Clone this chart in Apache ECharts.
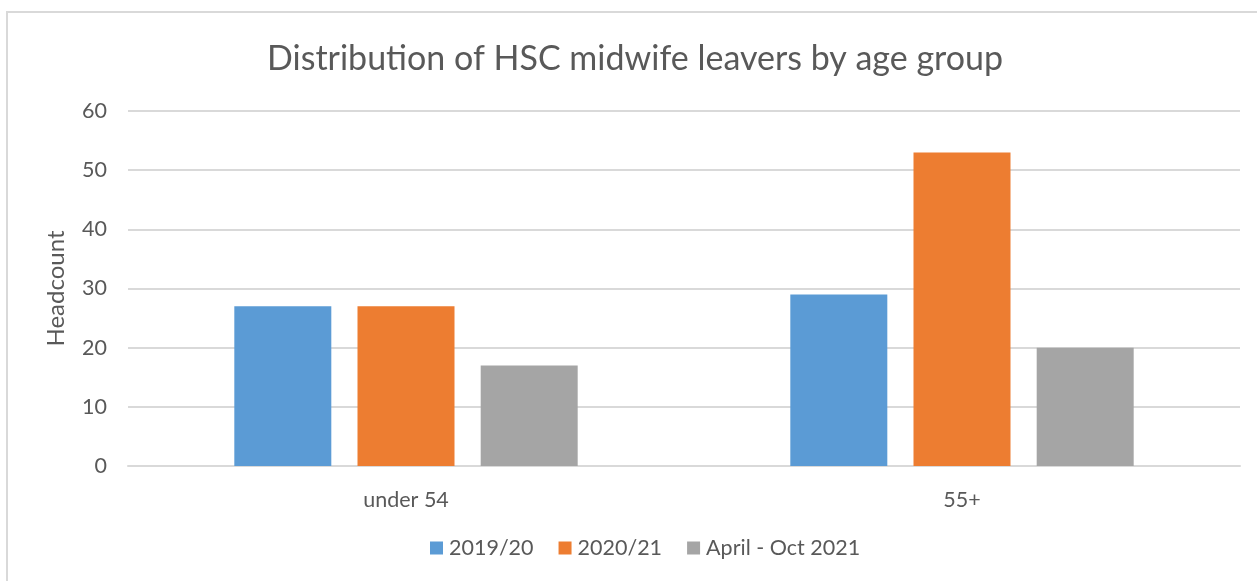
<!DOCTYPE html>
<html>
<head>
<meta charset="utf-8">
<title>Distribution of HSC midwife leavers by age group</title>
<script src="https://cdn.jsdelivr.net/npm/echarts@6/dist/echarts.min.js"></script>
<style>
  html, body { margin: 0; padding: 0; background: #ffffff; }
  #chart { width: 1257px; height: 581px; }
</style>
</head>
<body>
<div id="chart"></div>
<script>
// Age groups on the x axis
const categories = ['under 54', '55+'];

// Leaver headcounts per reporting period
const seriesNames = ['2019/20', '2020/21', 'April - Oct 2021'];
const values2019 = [27, 29];
const values2020 = [27, 53];
const valuesAprOct2021 = [17, 20];

// Value axis
const yTicks = [0, 10, 20, 30, 40, 50, 60];

const colors = ['#5b9bd5', '#ed7d31', '#a5a5a5'];
const textColor = '#595959';
const gridColor = '#d9d9d9';
const fontFamily = 'Lato, "Open Sans", sans-serif';

const chart = echarts.init(document.getElementById('chart'), null, { renderer: 'canvas' });

const seriesData = [values2019, values2020, valuesAprOct2021];

chart.setOption({
  animation: false,
  backgroundColor: '#ffffff',
  color: colors,
  textStyle: { fontFamily: fontFamily },
  graphic: [{
    type: 'rect',
    shape: { x: 7, y: 12, width: 1280, height: 600 },
    style: { fill: 'none', stroke: gridColor, lineWidth: 2 },
    silent: true,
    z: -1
  }],
  title: {
    text: 'Distribution of HSC midwife leavers by age group',
    left: 267,
    top: 42,
    padding: 0,
    textStyle: { color: textColor, fontSize: 34, fontWeight: 'normal', fontFamily: fontFamily }
  },
  legend: {
    data: seriesNames,
    bottom: 17,
    left: 425,
    itemWidth: 13,
    itemHeight: 13,
    itemGap: 25,
    icon: 'rect',
    textStyle: { color: textColor, fontSize: 21.5, fontFamily: fontFamily, padding: [0, 0, 0, 1] }
  },
  grid: { left: 128, right: 17, top: 111, bottom: 115, containLabel: false },
  xAxis: {
    type: 'category',
    data: categories,
    axisLine: { show: true, lineStyle: { color: gridColor, width: 2 } },
    axisTick: { show: false },
    axisLabel: { color: textColor, fontSize: 21.5, margin: 23, fontFamily: fontFamily }
  },
  yAxis: {
    type: 'value',
    min: yTicks[0],
    max: yTicks[yTicks.length - 1],
    interval: yTicks[1] - yTicks[0],
    name: 'Headcount',
    nameLocation: 'middle',
    nameGap: 60,
    nameRotate: 90,
    nameTextStyle: { color: textColor, fontSize: 24, fontFamily: fontFamily },
    axisLine: { show: false },
    axisTick: { show: false },
    axisLabel: { color: textColor, fontSize: 21.5, margin: 21, fontFamily: fontFamily },
    splitLine: { lineStyle: { color: gridColor, width: 2 } }
  },
  series: seriesNames.map((name, i) => ({
    name: name,
    type: 'bar',
    data: seriesData[i],
    barWidth: 97,
    barGap: '27%',
    itemStyle: { color: colors[i] }
  }))
});
</script>
</body>
</html>
